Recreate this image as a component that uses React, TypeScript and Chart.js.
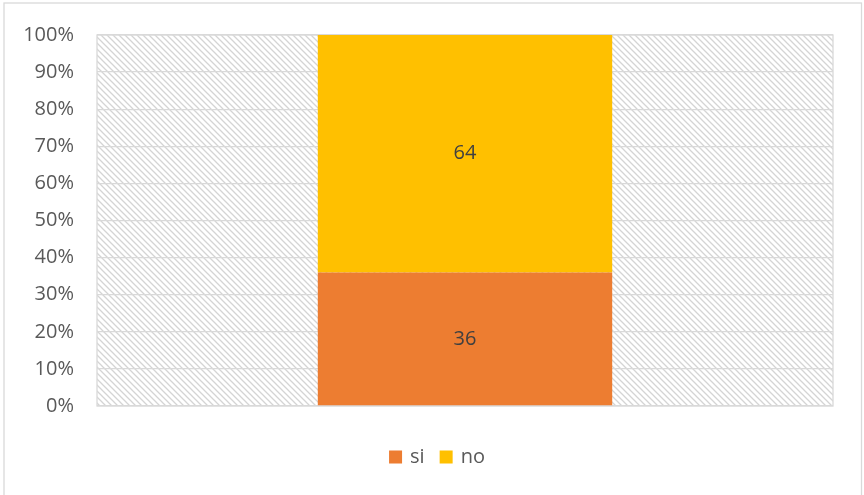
import React, { useEffect, useRef } from "react";
import { Chart, registerables } from "chart.js";

Chart.register(...registerables);

const categories = [""];
const seriesNames = ["si", "no"];
const siValues = [36];
const noValues = [64];
const seriesColors = ["#ED7D31", "#FFC000"];
const yMin = 0;
const yMax = 100;
const yStep = 10;

const FONT = "'Open Sans', 'Liberation Sans', sans-serif";
const GRID = "#d9d9d9";

function makePattern(): CanvasPattern | string {
  const s = 6;
  const c = document.createElement("canvas");
  c.width = s;
  c.height = s;
  const g = c.getContext("2d");
  if (!g) return "#f2f2f2";
  g.fillStyle = "#ffffff";
  g.fillRect(0, 0, s, s);
  g.strokeStyle = "#d4d4d4";
  g.lineWidth = 1.3;
  g.beginPath();
  g.moveTo(-1, -1);
  g.lineTo(s + 1, s + 1);
  g.moveTo(-1, s - 1);
  g.lineTo(1, s + 1);
  g.moveTo(s - 1, -1);
  g.lineTo(s + 1, 1);
  g.stroke();
  const p = g.createPattern(c, "repeat");
  return p || "#f2f2f2";
}

export default function App() {
  const ref = useRef<HTMLCanvasElement>(null);

  useEffect(() => {
    const canvas = ref.current;
    if (!canvas) return;
    const pattern = makePattern();

    const bgPlugin = {
      id: "plotBg",
      beforeDraw(chart: any) {
        const { ctx, chartArea: a } = chart;
        ctx.save();
        ctx.fillStyle = "#ffffff";
        ctx.fillRect(0, 0, chart.width, chart.height);
        ctx.fillStyle = pattern;
        ctx.fillRect(a.left, a.top, a.right - a.left, a.bottom - a.top);
        ctx.restore();
      },
      beforeDatasetsDraw(chart: any) {
        const { ctx, chartArea: a } = chart;
        ctx.save();
        ctx.strokeStyle = GRID;
        ctx.lineWidth = 1.3;
        ctx.strokeRect(a.left, a.top, a.right - a.left, a.bottom - a.top);
        ctx.restore();
      },
      afterDraw(chart: any) {
        const { ctx, chartArea: a } = chart;
        ctx.save();
        // outer chart border
        ctx.strokeStyle = GRID;
        ctx.lineWidth = 1.3;
        ctx.strokeRect(4, 3, chart.width - 6.5, chart.height + 10);
        // legend
        ctx.font = `20px ${FONT}`;
        ctx.textBaseline = "middle";
        ctx.textAlign = "left";
        const box = 13;
        const gapText = 8;
        const gapItem = 15;
        const items = chart.data.datasets.map((ds: any) => ({
          label: ds.label as string,
          color: ds.backgroundColor as string,
          w: box + gapText + ctx.measureText(ds.label).width,
        }));
        const total = items.reduce((s: number, it: any) => s + it.w, 0) + gapItem * (items.length - 1);
        let x = chart.width / 2 + 5 - total / 2;
        const cy = a.bottom + 51;
        items.forEach((it: any) => {
          ctx.fillStyle = it.color;
          ctx.fillRect(x, cy - box / 2, box, box);
          ctx.fillStyle = "#595959";
          ctx.fillText(it.label, x + box + gapText, cy);
          x += it.w + gapItem;
        });
        ctx.restore();
      },
    };

    const labelPlugin = {
      id: "valueLabels",
      afterDatasetsDraw(chart: any) {
        const { ctx } = chart;
        ctx.save();
        ctx.font = `20px ${FONT}`;
        ctx.fillStyle = "#404040";
        ctx.textAlign = "center";
        ctx.textBaseline = "middle";
        chart.data.datasets.forEach((ds: any, i: number) => {
          const meta = chart.getDatasetMeta(i);
          meta.data.forEach((el: any, j: number) => {
            const v = ds.data[j];
            const y = (el.y + el.base) / 2;
            ctx.fillText(String(v), el.x, y);
          });
        });
        ctx.restore();
      },
    };

    const chart = new Chart(canvas, {
      type: "bar",
      data: {
        labels: categories,
        datasets: [
          {
            label: seriesNames[0],
            data: siValues,
            backgroundColor: seriesColors[0],
            barPercentage: 0.4,
            categoryPercentage: 1,
          },
          {
            label: seriesNames[1],
            data: noValues,
            backgroundColor: seriesColors[1],
            barPercentage: 0.4,
            categoryPercentage: 1,
          },
        ],
      },
      options: {
        responsive: false,
        animation: false,
        layout: { padding: { left: 0, right: 31, top: 32, bottom: 89 } },
        plugins: {
          tooltip: { enabled: false },
          legend: { display: false },
        },
        scales: {
          x: {
            stacked: true,
            display: false,
          },
          y: {
            stacked: true,
            min: yMin,
            max: yMax,
            ticks: {
              stepSize: yStep,
              padding: 23,
              color: "#595959",
              font: { family: FONT, size: 20 },
              callback: (v: any) => `${v}%`,
            },
            grid: { color: GRID, lineWidth: 1.3, drawTicks: false },
            border: { display: false },
            afterFit(scale: any) {
              scale.width = 97;
            },
          },
        },
      },
      plugins: [bgPlugin, labelPlugin],
    });

    return () => chart.destroy();
  }, []);

  return (
    <div style={{ position: "absolute", left: 0, top: 0, width: 864, height: 495, background: "#fff" }}>
      <canvas ref={ref} width={864} height={495} style={{ display: "block", width: 864, height: 495 }} />
    </div>
  );
}
